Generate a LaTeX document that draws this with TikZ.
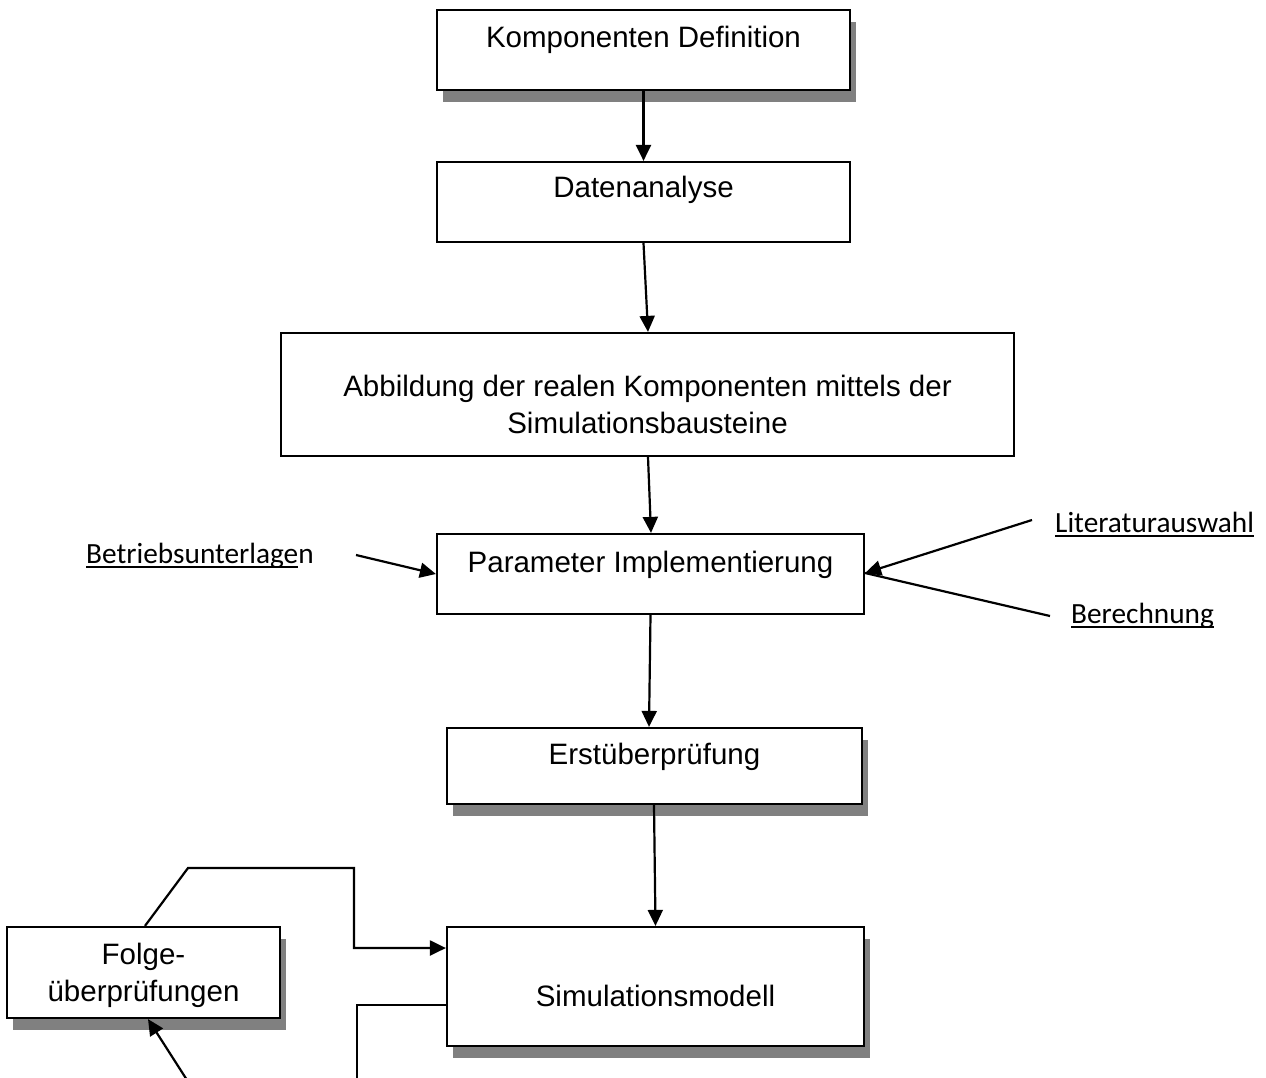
\documentclass[tikz,border=0pt]{standalone}
\usepackage{fontspec}
\setmainfont{Liberation Sans}
\newfontfamily\calib{Carlito}
\usetikzlibrary{arrows.meta,shadows,calc}
\newcommand\myul[1]{\setbox0\hbox{#1}\rlap{\rule[-5pt]{\wd0}{1.8pt}}\box0}
\begin{document}
\begin{tikzpicture}[x=1pt,y=-1pt,
  box/.style={draw,line width=2.2pt,fill=white,inner sep=0pt},
  shbox/.style={box,drop shadow={shadow xshift=6pt,shadow yshift=-12pt,fill=gray,opacity=1}},
  btext/.style={font=\fontsize{29.5}{37}\selectfont,align=center,inner sep=0pt},
  ltext/.style={font=\calib\fontsize{29.3}{34}\selectfont,inner sep=0pt,anchor=base west},
  conn/.style={line width=2.2pt},
  arr/.style={conn,-{Triangle[length=16pt,width=15pt]}}]
\useasboundingbox[fill=white] (0,0) rectangle (1266,1077);

\node[shbox,minimum width=413pt,minimum height=80pt] (k) at (643.5,50) {};
\node[btext] (kt) at (643.5,40) {Komponenten Definition};
\node[box,minimum width=413pt,minimum height=80pt] (d) at (643.5,202) {};
\node[btext] (dt) at (643.5,190) {Datenanalyse};
\node[box,minimum width=733pt,minimum height=123pt] (a) at (647.5,394.5) {};
\node[btext] (at) at (647.5,404) {Abbildung der realen Komponenten mittels der\\Simulationsbausteine};
\node[box,minimum width=427pt,minimum height=80pt] (p) at (650.5,574) {};
\node[btext] (pt) at (650.5,565) {Parameter Implementierung};
\node[shbox,minimum width=415pt,minimum height=76pt] (e) at (654.5,766) {};
\node[btext] (et) at (654.5,757) {Erstüberprüfung};
\node[shbox,minimum width=417pt,minimum height=119pt] (s) at (655.5,986.5) {};
\node[btext] (st) at (655.5,996) {Simulationsmodell};
\node[shbox,minimum width=273pt,minimum height=91pt] (f) at (143.5,972.5) {};
\node[btext] (ft) at (143.5,975) {Folge-\\überprüfungen};

\node[ltext] (lb) at (86,563) {\myul{Betriebsunterlage}n};
\node[ltext] (ll) at (1055,532) {\myul{Literaturauswahl}};
\node[ltext] (lc) at (1071,623) {\myul{Berechnung}};

\draw[arr] (k.south) -- (d.north);
\draw[arr] (d.south) -- ([xshift=0.5pt]a.north);
\draw[arr] ([xshift=0.5pt]a.south) -- ([xshift=0.5pt]p.north);
\draw[arr] (p.south) -- ([xshift=-5.5pt]e.north);
\draw[arr] ([xshift=-0.5pt]e.south) -- (s.north);

\coordinate (b1) at (356,555);
\coordinate (l1) at (1032,520);
\coordinate (c1) at (1050,616);
\draw[arr] (b1) -- (p.west);
\draw[conn] (c1) -- ([yshift=1pt]p.east);
\draw[arr] (l1) -- ([yshift=1pt]p.east);

\draw[arr] ([xshift=1.5pt]f.north) -- (188,868) -- (354,868) -- (354,948) -- ([yshift=38.5pt]s.west);
\coordinate (o1) at (357,1080);
\draw[conn] ([yshift=-18.5pt]s.west) -- (357,1005) -- (o1);
\coordinate (o2) at (187,1080);
\draw[arr] (o2) -- ([xshift=4.5pt]f.south);
\end{tikzpicture}
\end{document}
